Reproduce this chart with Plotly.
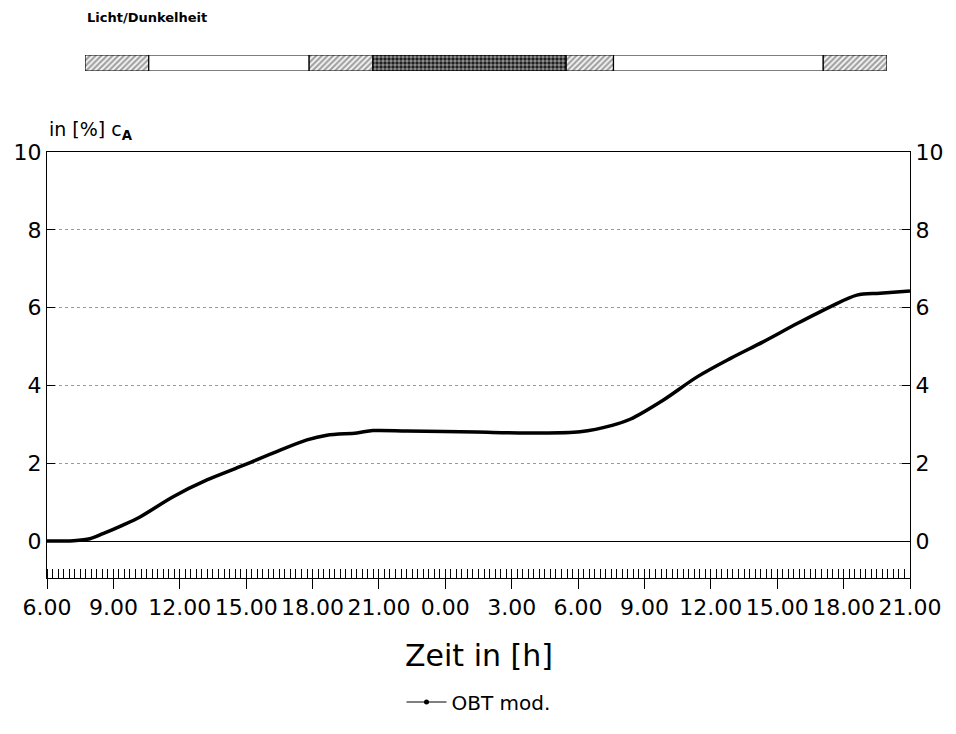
import numpy as np
import plotly.graph_objects as go

# ---- data ----
hours = [6.0, 7.2, 7.94, 8.53, 9.43, 10.2, 11.7, 13.23, 14.72, 16.21, 17.75, 18.65, 20.0,
         20.73, 22.27, 25.4, 27.83, 30.09, 31.58, 32.35, 33.84, 35.38, 36.87,
         38.36, 39.9, 41.39, 42.6, 43.64, 45.0]
obt_mod = [0.0, 0.01, 0.06, 0.19, 0.41, 0.62, 1.14, 1.57, 1.91, 2.26, 2.6, 2.72, 2.78,
           2.84, 2.83, 2.80, 2.78, 2.81, 2.98, 3.13, 3.62, 4.22, 4.69,
           5.12, 5.59, 6.02, 6.32, 6.37, 6.43]

tick_hours = [6, 9, 12, 15, 18, 21, 24, 27, 30, 33, 36, 39, 42, 45]
tick_labels = ["6.00", "9.00", "12.00", "15.00", "18.00", "21.00", "0.00", "3.00",
               "6.00", "9.00", "12.00", "15.00", "18.00", "21.00"]
y_ticks = [0, 2, 4, 6, 8, 10]

# light/dark phases (bar schematic): boundaries in hours and state of each phase
phase_bounds = [6.0, 9.1, 16.9, 20.0, 29.4, 31.7, 41.9, 45.0]
phase_state = ["twilight", "light", "twilight", "dark", "twilight", "light", "twilight"]

# ---- figure ----
FONT = "DejaVu Sans, Liberation Sans, sans-serif"
fig = go.Figure()

fig.add_trace(go.Scatter(x=hours, y=obt_mod, mode="lines",
                         line=dict(color="black", width=3.5, shape="spline", smoothing=0.9),
                         showlegend=False, hoverinfo="skip"))
fig.add_trace(go.Scatter(x=[None], y=[None], mode="lines+markers", name="OBT mod.",
                         line=dict(color="black", width=1),
                         marker=dict(color="black", size=5)))
# right axis companion (invisible)
fig.add_trace(go.Scatter(x=[hours[0]], y=[obt_mod[0]], yaxis="y3", mode="markers",
                         marker=dict(opacity=0), showlegend=False, hoverinfo="skip"))

starts = phase_bounds[:-1]
lengths = list(np.diff(phase_bounds))
shapes_map = {"twilight": "/", "light": "", "dark": "."}
bg_map = {"twilight": "white", "light": "white", "dark": "#141414"}
fg_map = {"twilight": "black", "light": "black", "dark": "#3c3c3c"}
fig.add_trace(go.Bar(x=lengths, base=starts, y=[0] * len(starts), orientation="h",
                     xaxis="x2", yaxis="y2", width=1, showlegend=False, hoverinfo="skip",
                     marker=dict(color=[bg_map[s] for s in phase_state],
                                 line=dict(color="black", width=1.2),
                                 pattern=dict(shape=[shapes_map[s] for s in phase_state],
                                              fgcolor=[fg_map[s] for s in phase_state],
                                              bgcolor=[bg_map[s] for s in phase_state],
                                              size=4, solidity=0.6))))

H = 578.0
main_top = (H - 152) / H
fig.update_layout(
    width=956, height=734,
    margin=dict(l=47, r=46, t=0, b=156, autoexpand=False),
    paper_bgcolor="white", plot_bgcolor="white",
    font=dict(family=FONT, color="black"),
    barmode="overlay",
    xaxis=dict(range=[6, 45], tickvals=tick_hours, ticktext=tick_labels,
               ticks="outside", ticklen=10, tickwidth=1, tickcolor="black",
               tickfont=dict(size=22), showgrid=False, zeroline=False,
               showline=True, linecolor="black", linewidth=1, mirror=True,
               minor=dict(ticks="inside", dtick=0.25, ticklen=9, tickcolor="black", tickwidth=1),
               domain=[0, 1], anchor="y"),
    yaxis=dict(range=[-0.95, 10], tickvals=y_ticks, ticks="inside", ticklen=8,
               tickcolor="black", tickfont=dict(size=22), showgrid=True,
               gridcolor="#9a9a9a", griddash="dot", gridwidth=1,
               zeroline=True, zerolinecolor="black", zerolinewidth=1,
               showline=True, linecolor="black", linewidth=1,
               domain=[0, main_top]),
    yaxis3=dict(range=[-0.95, 10], tickvals=y_ticks, ticks="inside", ticklen=8,
                tickcolor="black", tickfont=dict(size=22), showgrid=False, zeroline=False,
                overlaying="y", side="right", showline=True, linecolor="black", linewidth=1),
    xaxis2=dict(range=[6, 45], domain=[(85 - 47) / 863, (887 - 47) / 863], anchor="y2",
                visible=False),
    yaxis2=dict(range=[-0.5, 0.5], domain=[1 - 71 / H, 1 - 55 / H], anchor="x2",
                visible=False),
    legend=dict(orientation="h", x=0.5, xanchor="center", y=-124 / H, yanchor="middle",
                font=dict(size=20), bgcolor="rgba(0,0,0,0)", itemwidth=40),
    showlegend=True,
)

fig.add_annotation(text="<b>Licht/Dunkelheit</b>", xref="paper", yref="paper",
                   x=(85 - 47) / 863, y=1 - 17 / H, xanchor="left", yanchor="middle",
                   showarrow=False, font=dict(size=13, color="black"))
fig.add_annotation(text="in [%] c<sub><b>A</b></sub>", xref="paper", yref="paper",
                   x=0, y=1 - 130 / H, xanchor="left", yanchor="middle",
                   showarrow=False, font=dict(size=19))
fig.add_annotation(text="Zeit in [h]", xref="paper", yref="paper",
                   x=0.5, y=(H - 655) / H, xanchor="center", yanchor="middle",
                   showarrow=False, font=dict(size=30))

fig.write_html("out.html")
